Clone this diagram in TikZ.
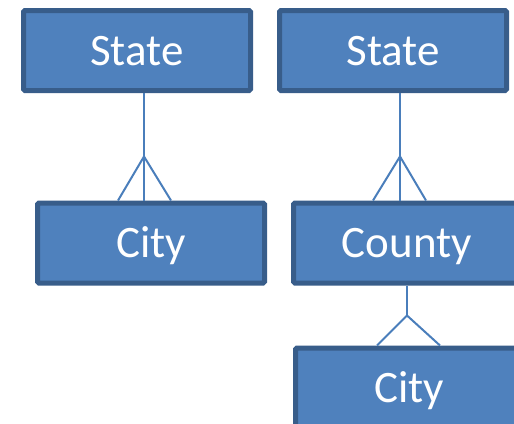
\documentclass[tikz,border=0pt]{standalone}
\usepackage{fontspec}
\setmainfont{Carlito}
\definecolor{boxfill}{HTML}{4F81BD}
\definecolor{boxedge}{HTML}{385D8A}
\definecolor{linkblue}{HTML}{4A7EBB}
\begin{document}
\begin{tikzpicture}[x=1pt,y=-1pt,
  entity/.style={draw=boxedge, fill=boxfill, line width=5pt, rounded corners=1.5pt,
    minimum width=227pt, minimum height=80pt, inner sep=0pt,
    text=white, font=\fontsize{45}{54}\selectfont, text height=29pt, text depth=0pt},
  link/.style={draw=linkblue, line width=2.4pt},
  prong/.style={draw=linkblue, line width=2pt}]
  \clip (0,0) rectangle (514,423);
  \fill[white] (0,0) rectangle (514,423);

  % left hierarchy: State -> City
  \node[entity] (s1) at (137,50.5) {State};
  \node[entity] (c1) at (151,243) {City};
  % right hierarchy: State -> County -> City
  \node[entity] (s2) at (393,50.5) {State};
  \node[entity] (co) at (407,243) {County};
  \node[entity] (c2) at (409,388) {City};

  % State -> City (one-to-many)
  \coordinate (a1) at ([xshift=-7pt,yshift=44pt]c1.north);
  \draw[link] ([xshift=7pt]s1.south) -- ([xshift=-7pt]c1.north);
  \draw[prong] ([xshift=-33pt]c1.north) -- (a1) -- ([xshift=20pt]c1.north);

  % State -> County (one-to-many)
  \coordinate (a2) at ([xshift=-7pt,yshift=44pt]co.north);
  \draw[link] ([xshift=7pt]s2.south) -- ([xshift=-7pt]co.north);
  \draw[prong] ([xshift=-34pt]co.north) -- (a2) -- ([xshift=19pt]co.north);

  % County -> City (one-to-many)
  \coordinate (a3) at ([xshift=-2pt,yshift=30pt]c2.north);
  \draw[prong] (co.south) -- (a3);
  \draw[prong] ([xshift=-32pt]c2.north) -- (a3) -- ([xshift=31pt]c2.north);
\end{tikzpicture}
\end{document}
